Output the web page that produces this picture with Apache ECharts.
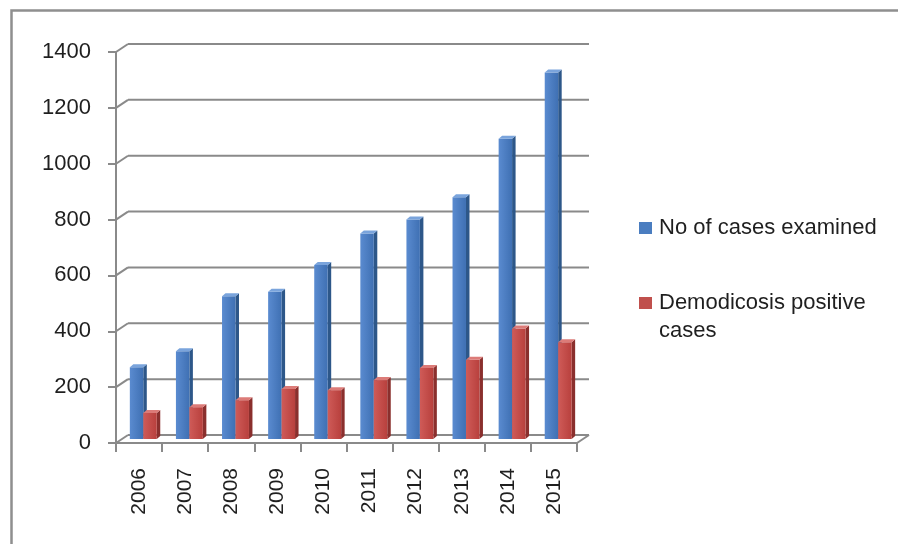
<!DOCTYPE html>
<html>
<head>
<meta charset="utf-8">
<script src="https://cdn.jsdelivr.net/npm/echarts@6/dist/echarts.min.js"></script>
<style>
html,body{margin:0;padding:0;background:#fff;}
#chart{width:898px;height:544px;}
</style>
</head>
<body>
<div id="chart"></div>
<script>
var years = ['2006','2007','2008','2009','2010','2011','2012','2013','2014','2015'];
var examined = [257, 314, 511, 527, 623, 736, 786, 866, 1075, 1312];
var positive = [93, 114, 139, 179, 175, 211, 254, 284, 396, 346];
var yTicks = [0, 200, 400, 600, 800, 1000, 1200, 1400];
var seriesNames = ['No of cases examined', 'Demodicosis positive cases'];
var legendLines = ['No of cases examined', 'Demodicosis positive', 'cases'];

var FONT = 'Liberation Sans, Arial, sans-serif';
var GRID_COLOR = '#8a8a8a';
var WALL_DX = 12, WALL_DY = -8;
var BAR_DX = 3.5, BAR_DY = -3, BAR_LIFT = 4;

var palettes = [
  {front: ['#5a8bd0', '#3f70b3'], side: '#2d5789', top: '#7aa4dc', base: '#4a7dc0'},
  {front: ['#cf5b58', '#b8403d'], side: '#8a2f2d', top: '#dc7b78', base: '#c0504d'}
];

function barRender(sIdx) {
  return function (params, api) {
    var idx = api.value(0);
    var val = api.value(1);
    var band = api.size([1, 0])[0];
    var base = api.coord([idx, 0]);
    var top = api.coord([idx, val]);
    var w = band * 0.292;
    var gx = top[0] - band / 2 + band * 0.30;
    var x0 = gx + sIdx * w;
    var yB = base[1] - BAR_LIFT;
    var yT = top[1] - BAR_LIFT;
    var p = palettes[sIdx];
    return {
      type: 'group',
      children: [
        {type: 'polygon', shape: {points: [[x0 + w, yT], [x0 + w + BAR_DX, yT + BAR_DY], [x0 + w + BAR_DX, yB + BAR_DY], [x0 + w, yB]]},
          style: {fill: p.side}},
        {type: 'rect', shape: {x: x0, y: yT, width: w, height: yB - yT},
          style: {fill: new echarts.graphic.LinearGradient(0, 0, 1, 0, [{offset: 0, color: p.front[0]}, {offset: 1, color: p.front[1]}])}},
        {type: 'polygon', shape: {points: [[x0, yT], [x0 + BAR_DX, yT + BAR_DY], [x0 + w + BAR_DX, yT + BAR_DY], [x0 + w, yT]]},
          style: {fill: p.top}}
      ]
    };
  };
}

function wallRender(params, api) {
  var v = api.value(1);
  var band = api.size([1, 0])[0];
  var l = api.coord([0, v]);
  var r = api.coord([years.length - 1, v]);
  var xl = l[0] - band / 2;
  var xr = r[0] + band / 2;
  var y = l[1];
  var children = [
    {type: 'line', shape: {x1: xl, y1: y, x2: xl + WALL_DX, y2: y + WALL_DY}, style: {stroke: GRID_COLOR, lineWidth: 2}},
    {type: 'line', shape: {x1: xl + WALL_DX, y1: y + WALL_DY, x2: xr + WALL_DX, y2: y + WALL_DY}, style: {stroke: GRID_COLOR, lineWidth: 2}}
  ];
  if (v === 0) {
    children.push({type: 'line', shape: {x1: xr, y1: y, x2: xr + WALL_DX, y2: y + WALL_DY}, style: {stroke: GRID_COLOR, lineWidth: 2}});
  }
  return {type: 'group', children: children};
}

var chart = echarts.init(document.getElementById('chart'), null, {renderer: 'canvas'});
chart.setOption({
  animation: false,
  backgroundColor: '#ffffff',
  textStyle: {fontFamily: FONT},
  graphic: [
    {type: 'rect', left: 9, top: 8, shape: {x: 0, y: 0, width: 920, height: 600},
      style: {fill: 'none', stroke: '#8f8f8f', lineWidth: 2.5}, silent: true, z: -10},
    {type: 'text', left: 659, top: 320,
      style: {text: legendLines[2], fontSize: 22, fill: '#1f1f1f', fontFamily: FONT}, silent: true}
  ],
  grid: {left: 116, right: 321, top: 52, bottom: 101, containLabel: false},
  legend: [
    {
      data: [{name: seriesNames[0], icon: 'rect'}],
      orient: 'vertical', left: 639, top: 217, padding: 0,
      itemWidth: 13, itemHeight: 12,
      formatter: function () { return legendLines[0]; },
      textStyle: {fontSize: 22, color: '#1f1f1f', fontFamily: FONT, padding: [0, 0, 0, 2]},
      selectedMode: false
    },
    {
      data: [{name: seriesNames[1], icon: 'rect'}],
      orient: 'vertical', left: 639, top: 292, padding: 0,
      itemWidth: 13, itemHeight: 12,
      formatter: function () { return legendLines[1]; },
      textStyle: {fontSize: 22, color: '#1f1f1f', fontFamily: FONT, padding: [0, 0, 0, 2]},
      selectedMode: false
    }
  ],
  xAxis: {
    type: 'category',
    data: years,
    boundaryGap: true,
    axisLine: {show: true, lineStyle: {color: GRID_COLOR, width: 2}},
    axisTick: {show: true, length: 9, lineStyle: {color: GRID_COLOR, width: 2}},
    axisLabel: {rotate: 90, margin: 25, fontSize: 21, color: '#1f1f1f', fontFamily: FONT},
    splitLine: {show: false}
  },
  yAxis: {
    type: 'value',
    min: 0, max: 1400, interval: 200,
    axisLine: {show: true, lineStyle: {color: GRID_COLOR, width: 2}},
    axisTick: {show: true, length: 8, lineStyle: {color: GRID_COLOR, width: 2}},
    axisLabel: {margin: 25, fontSize: 22, color: '#1f1f1f', fontFamily: FONT,
      formatter: function (v) { return yTicks.indexOf(v) >= 0 ? String(v) : ''; }},
    splitLine: {show: false}
  },
  series: [
    {
      name: 'wall', type: 'custom', silent: true, z: 1,
      renderItem: wallRender,
      data: yTicks.map(function (v) { return [0, v]; }),
      encode: {x: 0, y: 1}
    },
    {
      name: seriesNames[0], type: 'custom', z: 3,
      itemStyle: {color: palettes[0].base},
      renderItem: barRender(0),
      data: examined.map(function (v, i) { return [i, v]; }),
      encode: {x: 0, y: 1}
    },
    {
      name: seriesNames[1], type: 'custom', z: 4,
      itemStyle: {color: palettes[1].base},
      renderItem: barRender(1),
      data: positive.map(function (v, i) { return [i, v]; }),
      encode: {x: 0, y: 1}
    }
  ]
});
</script>
</body>
</html>
